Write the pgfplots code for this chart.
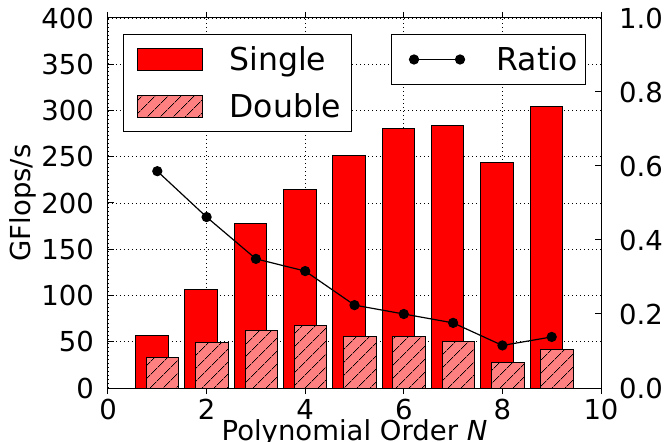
\documentclass[border=0pt]{standalone}
\usepackage{pgfplots}
\pgfplotsset{compat=1.18}
\usepackage{fontspec}
\setmainfont{DejaVu Sans}
\usetikzlibrary{patterns.meta}
\definecolor{lightred}{RGB}{255,128,128}

\pgfplotstableread{
N single double ratio
1 57  33.5 0.586
2 106 49   0.462
3 178 62   0.349
4 215 68   0.316
5 251 56   0.224
6 280 56   0.200
7 284 50   0.176
8 244 28   0.115
9 304 42   0.138
}\datatable

\begin{document}
\begin{tikzpicture}[font=\fontsize{27.5bp}{33bp}\selectfont]
\begin{axis}[
  scale only axis, width=493bp, height=370bp,
  xmin=0, xmax=10, ymin=0, ymax=400,
  xtick={0,2,...,10}, ytick={0,50,...,400},
  ytick pos=left,
  tick align=inside,
  major tick length=6bp,
  axis line style={line width=1bp, black},
  every tick/.style={black, line width=1bp},
  grid=major,
  major grid style={black, line width=0.8bp, dash pattern=on 1.2bp off 2.8bp},
  /pgf/number format/assume math mode=true,
  /pgf/number format/1000 sep={},
  scaled ticks=false,
  yticklabel style={inner sep=0pt, xshift=-14bp},
  xticklabel style={inner sep=0pt, yshift=-5bp},
  xlabel={Polynomial Order \textit{N}},
  ylabel={GFlops/s},
  xlabel style={at={(axis description cs:0.5,-0.1432)}, anchor=base, inner sep=0pt},
  ylabel style={at={(axis description cs:-0.1582,0.5)}, anchor=base, inner sep=0pt},
  ybar, bar width=0.66,
  legend style={at={(axis description cs:0,1)}, anchor=north west,
    xshift=15bp, yshift=-16bp, draw=black, line width=1bp, fill=white,
    font=\fontsize{31.5bp}{38bp}\selectfont,
    inner xsep=10bp, inner ysep=13.5bp, row sep=24bp,
    nodes={inner sep=0pt, text height=23bp, text depth=0bp},
    /tikz/every odd column/.append style={column sep=26bp}},
  legend cell align=left,
  legend image code/.code={\path (0bp,0bp); \draw[#1] (4bp,-11bp) rectangle (69bp,11bp);},
]
\addplot[fill=red, draw=black, line width=1bp, bar shift=-0.11] table[x=N, y=single] {\datatable};
\addlegendentry{Single}
\addplot[fill=lightred, draw=black, line width=1bp, bar shift=0.11,
  postaction={pattern={Lines[angle=45,distance=10bp,line width=0.8bp]}}] table[x=N, y=double] {\datatable};
\addlegendentry{Double}
\coordinate (BL) at (axis cs:0,0);
\coordinate (TR) at (axis cs:10,400);
\end{axis}
\begin{axis}[
  scale only axis, width=493bp, height=370bp,
  xmin=0, xmax=10, ymin=0, ymax=1,
  axis x line=none,
  axis y line*=right,
  ytick={0,0.2,...,1.0},
  tick align=inside,
  major tick length=6bp,
  axis line style={line width=1bp, black},
  every tick/.style={black, line width=1bp},
  /pgf/number format/.cd, fixed, fixed zerofill, precision=1, assume math mode=true,
  /pgfplots/.cd,
  yticklabel style={inner sep=0pt, xshift=18bp, anchor=west},
  legend style={at={(axis description cs:1,1)}, anchor=north east,
    xshift=-15bp, yshift=-16bp, draw=black, line width=1bp, fill=white,
    font=\fontsize{31.5bp}{38bp}\selectfont,
    inner xsep=8bp, inner ysep=13.5bp,
    nodes={inner sep=0pt, text height=23bp, text depth=0bp},
    /tikz/every odd column/.append style={column sep=31.5bp}},
  legend cell align=left,
  legend image code/.code={\path (0bp,0bp);
    \draw[black, line width=1.2bp] (14bp,0bp) -- (60bp,0bp);
    \fill[black] (14bp,0bp) circle (4.5bp);
    \fill[black] (60bp,0bp) circle (4.5bp);},
]
\addplot[black, line width=1.2bp, mark=*, mark size=4.5bp, mark options={fill=black}] table[x=N, y=ratio] {\datatable};
\addlegendentry{Ratio}
\end{axis}
\pgfresetboundingbox
\path ([shift={(-108bp,-54bp)}]BL) rectangle ([shift={(64bp,18bp)}]TR);
\end{tikzpicture}
\end{document}
